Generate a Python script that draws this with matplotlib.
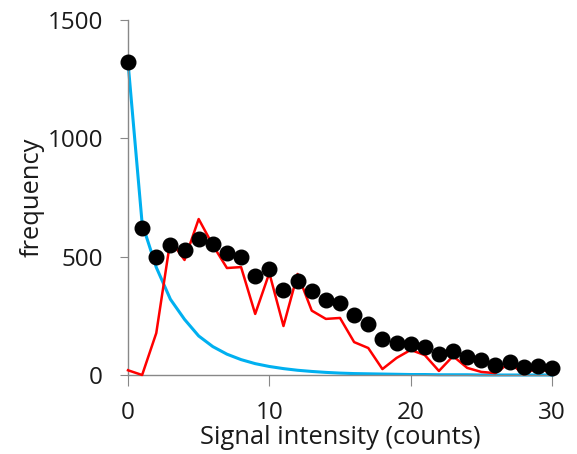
import numpy as np
import matplotlib
matplotlib.use("Agg")
import matplotlib.pyplot as plt

# signal intensity bins (counts)
counts = np.arange(0, 31)

# observed histogram (black dots)
observed = [1322, 621, 498, 549, 528, 575, 553, 515, 498, 418, 448,
            359, 397, 355, 317, 304, 253, 215, 152, 135, 131,
            118, 89, 101, 76, 63, 42, 55, 34, 38, 30]

# signal component (red line)
signal = [20, 0, 177, 570, 486, 659, 549, 452, 456, 258, 431,
          207, 427, 272, 237, 241, 139, 114, 25, 72, 106,
          84, 17, 80, 30, 13, 8, 51, 4, 30, 8]

# background component (blue line)
background = [1322, 640, 455, 320, 235, 165, 120, 88, 65, 48, 36,
              27, 20, 15, 11, 8, 6, 5, 4, 3, 2,
              2, 1, 1, 1, 0, 0, 0, 0, 0, 0]

plt.rcParams["font.family"] = ["Open Sans", "DejaVu Sans"]

fig = plt.figure(figsize=(5.77, 4.54), dpi=100)
ax = fig.add_axes([128 / 577, 79 / 454, 424 / 577, 355 / 454])

ax.plot(counts, background, color="#00B0F0", lw=2.2, zorder=2, clip_on=False)
ax.plot(counts, signal, color="#FF0000", lw=1.8, zorder=3, clip_on=False)
ax.plot(counts, observed, "o", color="black", ms=10.5, zorder=4, clip_on=False)

ax.set_xlim(0, 30)
ax.set_ylim(0, 1500)
ax.set_xticks([0, 10, 20, 30])
ax.set_yticks([0, 500, 1000, 1500])

for s in ["top", "right"]:
    ax.spines[s].set_visible(False)
for s in ["left", "bottom"]:
    ax.spines[s].set_color("#888888")
    ax.spines[s].set_linewidth(1.0)

ax.tick_params(axis="both", colors="#888888", labelcolor="#1a1a1a",
               labelsize=17.5, direction="out")
ax.tick_params(axis="x", length=8, pad=11)
ax.tick_params(axis="y", length=6, pad=12)

# keep the descenders of the x label inside the canvas
ax.set_xlabel("Signal intensity (counts)", fontsize=18.4, color="#1a1a1a",
              labelpad=0)
ax.set_ylabel("frequency", fontsize=18.4, color="#1a1a1a", labelpad=2)

fig.savefig("out.png", dpi=100)
